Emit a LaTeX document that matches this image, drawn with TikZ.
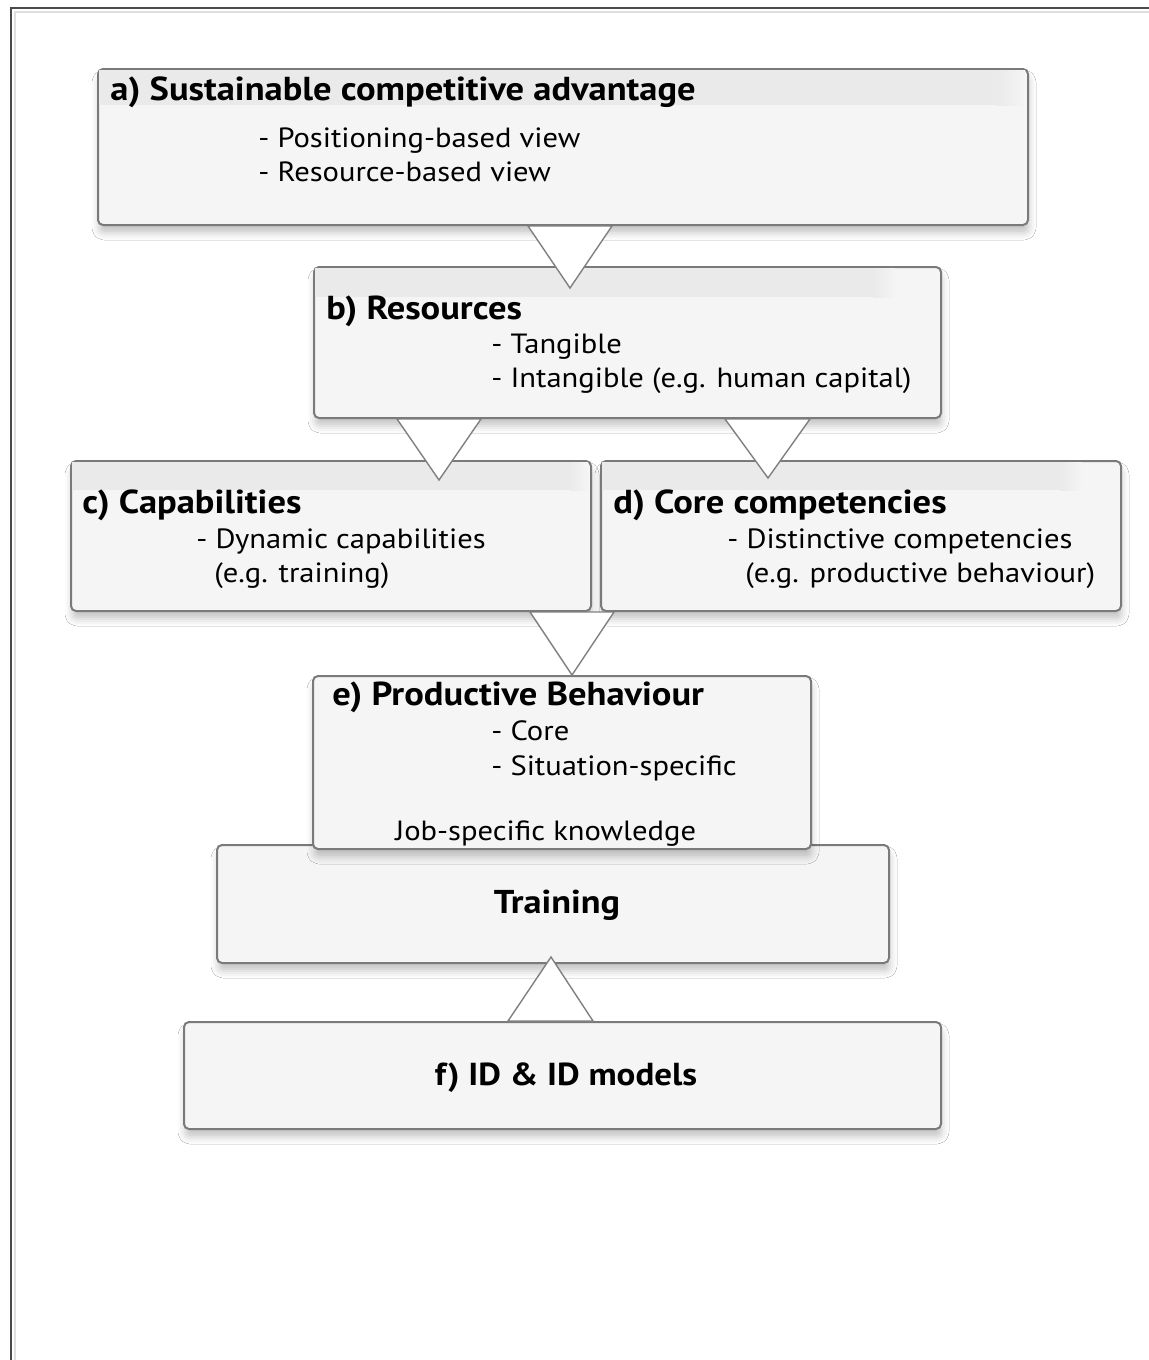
\documentclass[tikz,border=0pt]{standalone}
\usepackage{fontspec}
\setmainfont{PT Sans}[FakeStretch=1.1]
\usetikzlibrary{shadows.blur,calc}
\definecolor{boxfill}{HTML}{F5F5F5}
\definecolor{boxline}{HTML}{7A7A7A}
\definecolor{bandc}{HTML}{EAEAEA}
\definecolor{triline}{HTML}{808080}
\definecolor{frameline}{HTML}{4A4A4A}
\begin{document}
\begin{tikzpicture}[x=0.5pt,y=-0.5pt,
  box/.style={draw=boxline, line width=1pt, fill=boxfill, rounded corners=2.5pt,
    inner sep=0pt, anchor=north west,
    blur shadow={shadow xshift=0.5pt, shadow yshift=-4pt, shadow blur radius=3.5pt, shadow opacity=22}},
  ttl/.style={anchor=base west, inner sep=0pt, font=\fontsize{16.6}{20}\selectfont\bfseries},
  itm/.style={anchor=base west, inner sep=0pt, font=\fontsize{13.9}{17}\selectfont},
  ctr/.style={anchor=base, inner sep=0pt, font=\fontsize{16.2}{20}\selectfont\bfseries},
  tri/.style={draw=triline, line width=0.7pt, fill=white, line join=miter}]
\fill[white] (0,0) rectangle (1148,1360);
\useasboundingbox (0,0) rectangle (1148,1360);
% outer frame
\draw[line width=1.3pt, frameline] (11,1362) -- (11,8) -- (1150,8);
\draw[line width=0.8pt, gray!25] (15,1362) -- (15,12) -- (1150,12);

% a
\node[box, minimum width=465pt, minimum height=78pt] (a) at (97,68) {};
\fill[bandc] ($(a.north west)+(2,2)$) rectangle ($(a.north west)+(900,37)$);
\shade[left color=bandc, right color=boxfill] ($(a.north west)+(900,2)$) rectangle ($(a.north west)+(928,37)$);
\node[ttl] (at) at (110,100) {a) Sustainable competitive advantage};
\node[itm] (a1) at (258,147) {- Positioning-based view};
\node[itm] (a2) at (258,181) {- Resource-based view};

% b
\node[box, minimum width=313.5pt, minimum height=75.5pt] (b) at (313,266) {};
\fill[bandc] ($(b.north west)+(2,2)$) rectangle ($(b.north west)+(560,31)$);
\shade[left color=bandc, right color=boxfill] ($(b.north west)+(560,2)$) rectangle ($(b.north west)+(582,31)$);
\node[ttl] (bt) at (326,319) {b) Resources};
\node[itm] (b1) at (491,353) {- Tangible};
\node[itm] (b2) at (491,387) {- Intangible (e.g. human capital)};

% triangle a -> b
\draw[tri] (528,0 |- a.south) -- (612,0 |- a.south) -- ($(570,0 |- b.north)+(0,22)$) -- cycle;

% c
\node[box, minimum width=260pt, minimum height=75pt] (c) at (70,460) {};
\fill[bandc] ($(c.north west)+(2,2)$) rectangle ($(c.north west)+(500,30)$);
\shade[left color=bandc, right color=boxfill] ($(c.north west)+(500,2)$) rectangle ($(c.north west)+(518,30)$);
\node[ttl] (ct) at (82,513) {c) Capabilities};
\node[itm] (c1) at (196,548) {- Dynamic capabilities};
\node[itm] (c2) at (214,582) {(e.g. training)};

% d
\node[box, minimum width=260pt, minimum height=75pt] (d) at (600,460) {};
\fill[bandc] ($(d.north west)+(2,2)$) rectangle ($(d.north west)+(460,30)$);
\shade[left color=bandc, right color=boxfill] ($(d.north west)+(460,2)$) rectangle ($(d.north west)+(482,30)$);
\node[ttl] (dt) at (613,513) {d) Core competencies};
\node[itm] (d1) at (727,548) {- Distinctive competencies};
\node[itm] (d2) at (745,582) {(e.g. productive behaviour)};

% triangles b -> c, b -> d
\draw[tri] (397,0 |- b.south) -- (481,0 |- b.south) -- ($(439,0 |- c.north)+(0,20)$) -- cycle;
\draw[tri] (725,0 |- b.south) -- (810,0 |- b.south) -- ($(768,0 |- d.north)+(0,18)$) -- cycle;

% Training
\node[box, minimum width=336pt, minimum height=59pt] (t) at (216,844) {};
\node[ctr, font=\fontsize{16.5}{20}\selectfont\bfseries] (tt) at (557,913) {Training};

% e
\node[box, minimum width=249pt, minimum height=86.5pt] (e) at (312,675) {};
\node[ttl] (et) at (332,705) {e) Productive Behaviour};
\node[itm] (e1) at (491,740) {- Core};
\node[itm] (e2) at (491,775) {- Situation-specific};
\node[itm] (e3) at (395,840) {Job-specific knowledge};

% triangle c/d -> e
\draw[tri] (530,0 |- c.south) -- (614,0 |- c.south) -- (572,0 |- e.north) -- cycle;

% f
\node[box, minimum width=378.5pt, minimum height=53.5pt] (f) at (183,1021) {};
\node[ctr, font=\fontsize{15.9}{20}\selectfont\bfseries] (ft) at (566,1085) {f) ID \& ID models};

% triangle f -> Training
\draw[tri] (508,0 |- f.north) -- (593,0 |- f.north) -- ($(551,0 |- t.south)+(0,-7)$) -- cycle;
\end{tikzpicture}
\end{document}
